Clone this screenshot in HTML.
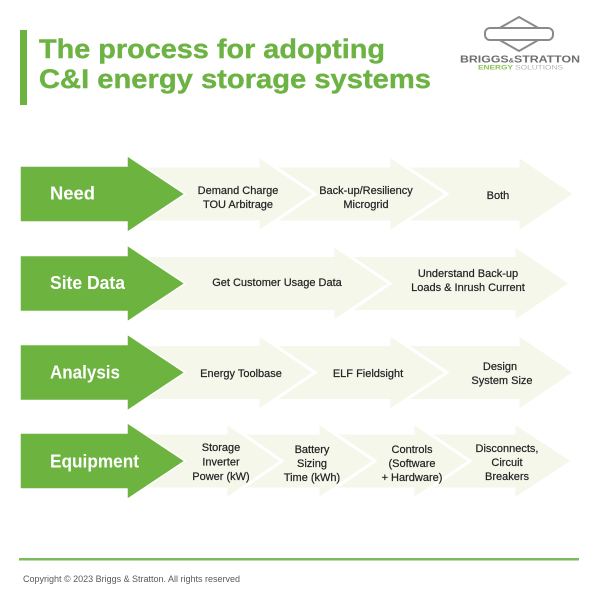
<!DOCTYPE html>
<html>
<head>
<meta charset="utf-8">
<style>
  html,body{margin:0;padding:0;background:#ffffff;}
  svg{display:block;}
  .lbl{font-family:"Liberation Sans",Arial,sans-serif;font-size:11px;fill:#222;text-anchor:middle;stroke:#222;stroke-width:0.2px;}
  .gl{font-family:"Liberation Sans",Arial,sans-serif;font-size:18px;font-weight:bold;fill:#ffffff;}
  .la{fill:#f5f7eb;stroke:#ffffff;stroke-width:3;stroke-linejoin:miter;}
  .gr{fill:#6cb33f;stroke:#ffffff;stroke-width:1.5;}
</style>
</head>
<body>
<svg width="600" height="600" viewBox="0 0 600 600" xmlns="http://www.w3.org/2000/svg">
  <rect x="0" y="0" width="600" height="600" fill="#ffffff"/>

  <!-- Title -->
  <rect x="20" y="30" width="7" height="75" fill="#6cb33f"/>
  <text x="39" y="58" font-family="Liberation Sans, Arial, sans-serif" font-size="27" font-weight="bold" fill="#6db344" stroke="#6db344" stroke-width="0.4" textLength="346" lengthAdjust="spacingAndGlyphs">The process for adopting</text>
  <text x="39" y="88" font-family="Liberation Sans, Arial, sans-serif" font-size="27" font-weight="bold" fill="#6db344" stroke="#6db344" stroke-width="0.4" textLength="392" lengthAdjust="spacingAndGlyphs">C&amp;I energy storage systems</text>

  <!-- Logo -->
  <polygon points="519,17 549,34 519,51 489,34" fill="none" stroke="#8a8a8a" stroke-width="2"/>
  <rect x="485" y="28" width="68" height="12" rx="5" ry="5" fill="#ffffff" stroke="#8a8a8a" stroke-width="2"/>
  <text x="460" y="62.5" font-family="Liberation Sans, Arial, sans-serif" font-size="10" font-weight="bold" fill="#6e6e6e" textLength="120" lengthAdjust="spacingAndGlyphs">BRIGGS<tspan font-size="6">&amp;</tspan>STRATTON</text>
  <text x="478" y="69.5" font-family="Liberation Sans, Arial, sans-serif" font-size="6" textLength="85" lengthAdjust="spacingAndGlyphs"><tspan fill="#8cc152" font-weight="bold">ENERGY </tspan><tspan fill="#b5b5b5">SOLUTIONS</tspan></text>

  <!-- Row 1: Need -->
  <polygon class="la" points="110,166 518,166 518,155.5 575,194 518,232.5 518,222 110,222"/>
  <polygon class="la" points="110,166 389,166 389,155.5 447,194 389,232.5 389,222 110,222"/>
  <polygon class="la" points="110,166 258,166 258,155.5 315,194 258,232.5 258,222 110,222"/>
  <polygon class="gr" points="20,166 127,166 127,155.5 185,194 127,232.5 127,222 20,222"/>
  <text class="gl" x="50" y="199.5" textLength="45" lengthAdjust="spacingAndGlyphs">Need</text>
  <text class="lbl" x="238" y="194">Demand Charge</text>
  <text class="lbl" x="238" y="208">TOU Arbitrage</text>
  <text class="lbl" x="366" y="194">Back-up/Resiliency</text>
  <text class="lbl" x="366" y="208">Microgrid</text>
  <text class="lbl" x="498" y="199">Both</text>

  <!-- Row 2: Site Data -->
  <polygon class="la" points="110,255.5 514,255.5 514,245 571,283.5 514,322 514,311.5 110,311.5"/>
  <polygon class="la" points="110,255.5 333,255.5 333,245 390,283.5 333,322 333,311.5 110,311.5"/>
  <polygon class="gr" points="20,255.5 127,255.5 127,245 185,283.5 127,322 127,311.5 20,311.5"/>
  <text class="gl" x="50" y="289" textLength="75" lengthAdjust="spacingAndGlyphs">Site Data</text>
  <text class="lbl" x="277" y="286">Get Customer Usage Data</text>
  <text class="lbl" x="468" y="277">Understand Back-up</text>
  <text class="lbl" x="468" y="291">Loads &amp; Inrush Current</text>

  <!-- Row 3: Analysis -->
  <polygon class="la" points="110,344.5 518,344.5 518,334 575,372.5 518,411 518,400.5 110,400.5"/>
  <polygon class="la" points="110,344.5 389,344.5 389,334 447,372.5 389,411 389,400.5 110,400.5"/>
  <polygon class="la" points="110,344.5 258,344.5 258,334 315,372.5 258,411 258,400.5 110,400.5"/>
  <polygon class="gr" points="20,344.5 127,344.5 127,334 185,372.5 127,411 127,400.5 20,400.5"/>
  <text class="gl" x="50" y="378.5" textLength="70" lengthAdjust="spacingAndGlyphs">Analysis</text>
  <text class="lbl" x="241" y="377">Energy Toolbase</text>
  <text class="lbl" x="368" y="377">ELF Fieldsight</text>
  <text class="lbl" x="500" y="370">Design</text>
  <text class="lbl" x="502" y="384">System Size</text>

  <!-- Row 4: Equipment -->
  <polygon class="la" points="110,433 514,433 514,422.5 573,461 514,499.5 514,489 110,489"/>
  <polygon class="la" points="110,433 413,433 413,422.5 470,461 413,499.5 413,489 110,489"/>
  <polygon class="la" points="110,433 318,433 318,422.5 375,461 318,499.5 318,489 110,489"/>
  <polygon class="la" points="110,433 226,433 226,422.5 282,461 226,499.5 226,489 110,489"/>
  <polygon class="gr" points="20,433 127,433 127,422.5 185,461 127,499.5 127,489 20,489"/>
  <text class="gl" x="50" y="467.5" textLength="89" lengthAdjust="spacingAndGlyphs">Equipment</text>
  <text class="lbl" x="221" y="451">Storage</text>
  <text class="lbl" x="221" y="465.5">Inverter</text>
  <text class="lbl" x="221" y="480">Power (kW)</text>
  <text class="lbl" x="312" y="453">Battery</text>
  <text class="lbl" x="312" y="467">Sizing</text>
  <text class="lbl" x="312" y="481">Time (kWh)</text>
  <text class="lbl" x="412" y="453">Controls</text>
  <text class="lbl" x="412" y="467">(Software</text>
  <text class="lbl" x="412" y="481">+ Hardware)</text>
  <text class="lbl" x="507" y="452">Disconnects,</text>
  <text class="lbl" x="507" y="466">Circuit</text>
  <text class="lbl" x="507" y="480">Breakers</text>

  <!-- Footer -->
  <rect x="19" y="558" width="560" height="2.5" fill="#7dba5b"/>
  <text x="23" y="582" font-family="Liberation Sans, Arial, sans-serif" font-size="9" fill="#5a5a5a" textLength="217" lengthAdjust="spacingAndGlyphs">Copyright © 2023 Briggs &amp; Stratton. All rights reserved</text>
</svg>
</body>
</html>
